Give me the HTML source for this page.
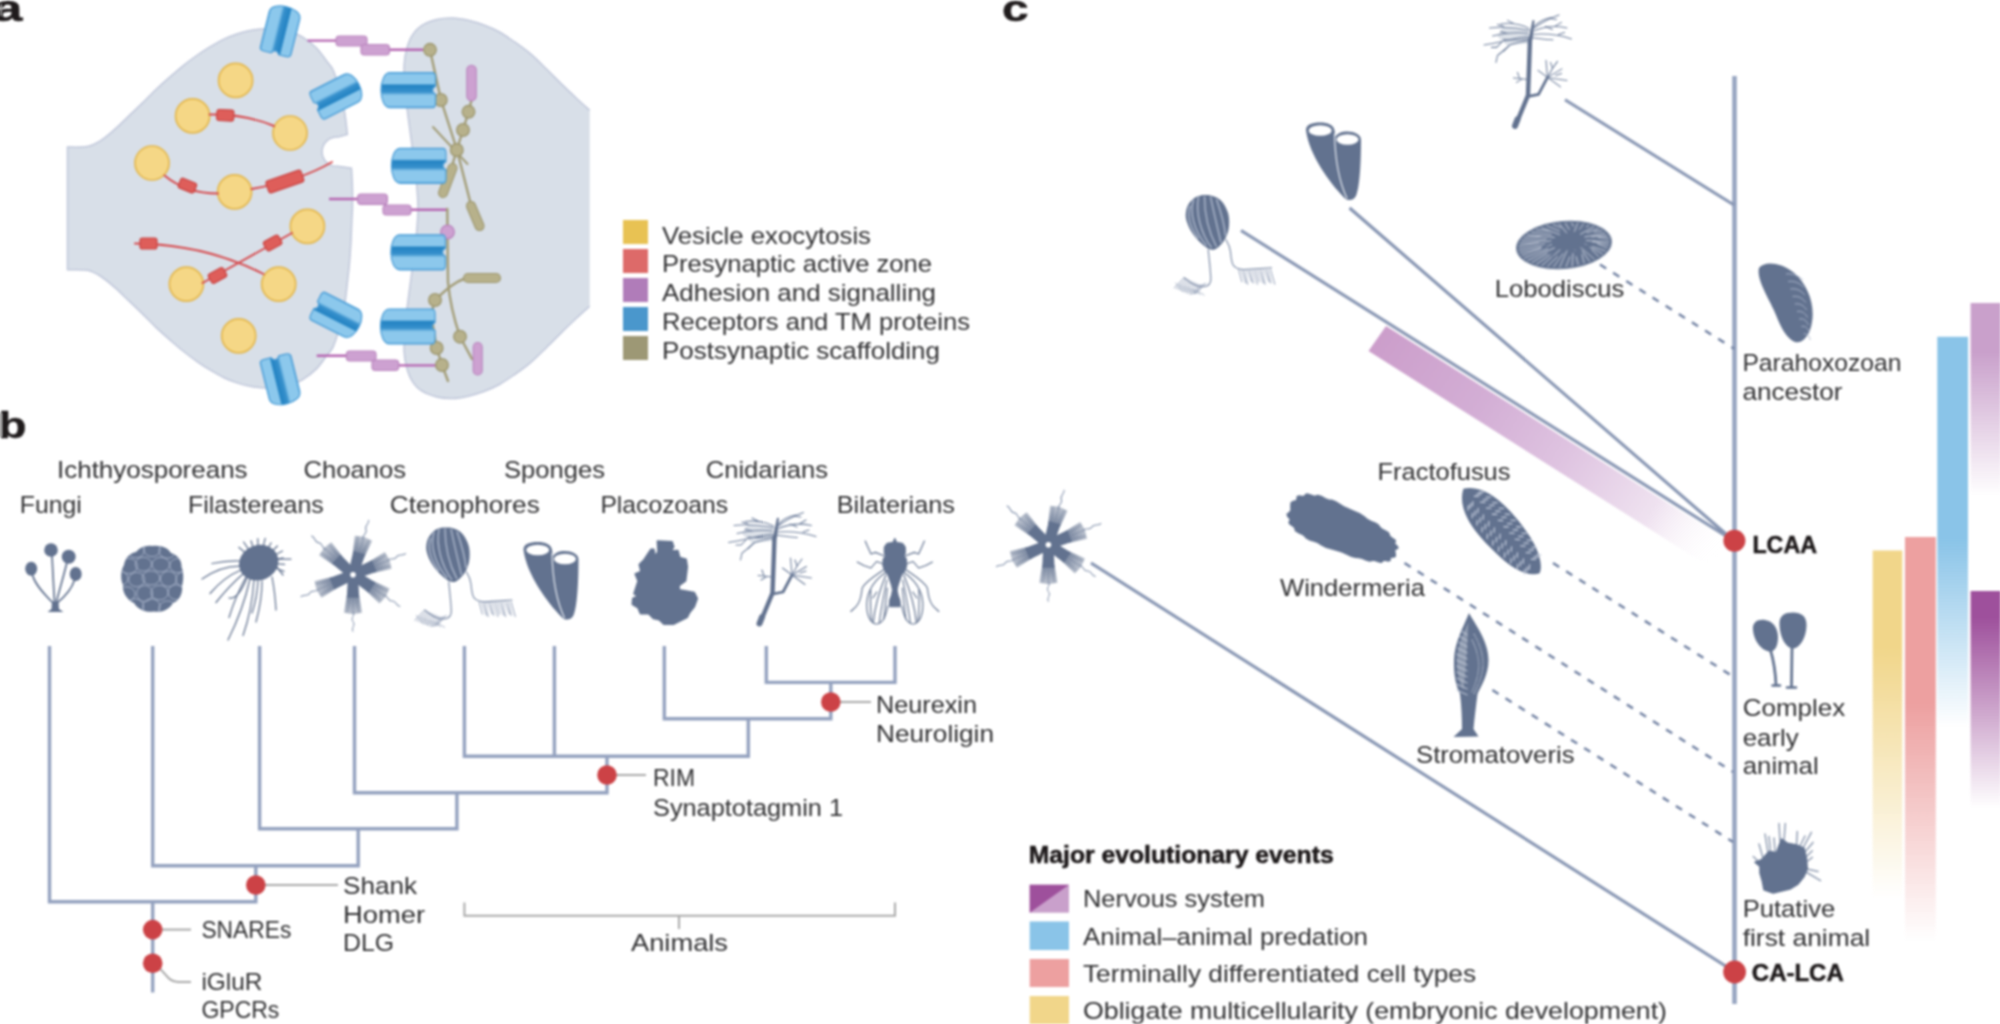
<!DOCTYPE html>
<html lang="en">
<head>
<meta charset="utf-8">
<title>Evolution of synaptic proteins and the nervous system</title>
<style>
html,body{margin:0;padding:0;background:#fff;}
body{width:2000px;height:1024px;overflow:hidden;}
svg{display:block;font-family:"Liberation Sans",sans-serif;}
.soft{filter:blur(1.1px);}
.tx{filter:blur(0.9px);}
</style>
</head>
<body>
<svg width="2000" height="1024" viewBox="0 0 2000 1024">
<defs>
<linearGradient id="rec" x1="0" y1="0" x2="0" y2="1">
<stop offset="0" stop-color="#69B3E4"/><stop offset="0.06" stop-color="#8CC8EC"/><stop offset="0.31" stop-color="#8CC8EC"/>
<stop offset="0.36" stop-color="#2383C3"/><stop offset="0.55" stop-color="#3790CC"/><stop offset="0.65" stop-color="#8CC8EC"/>
<stop offset="0.93" stop-color="#8CC8EC"/><stop offset="1" stop-color="#5BAADF"/>
</linearGradient>
<linearGradient id="gYellow" x1="0" y1="0" x2="0" y2="1"><stop offset="0" stop-color="#F1D68A"/><stop offset="0.28" stop-color="#F1D68A"/><stop offset="1" stop-color="#F1D68A" stop-opacity="0"/></linearGradient>
<linearGradient id="gPink" x1="0" y1="0" x2="0" y2="1"><stop offset="0" stop-color="#EDA0A0"/><stop offset="0.41" stop-color="#EDA0A0"/><stop offset="1" stop-color="#EDA0A0" stop-opacity="0"/></linearGradient>
<linearGradient id="gBlue" x1="0" y1="0" x2="0" y2="1"><stop offset="0" stop-color="#8AC4E8"/><stop offset="0.52" stop-color="#8AC4E8"/><stop offset="1" stop-color="#8AC4E8" stop-opacity="0"/></linearGradient>
<linearGradient id="gLPurple" x1="0" y1="0" x2="0" y2="1"><stop offset="0" stop-color="#C9A0CB"/><stop offset="0.25" stop-color="#C9A0CB"/><stop offset="1" stop-color="#C9A0CB" stop-opacity="0"/></linearGradient>
<linearGradient id="gDPurple" x1="0" y1="0" x2="0" y2="1"><stop offset="0" stop-color="#9E509C"/><stop offset="0.12" stop-color="#9E509C"/><stop offset="1" stop-color="#9E509C" stop-opacity="0"/></linearGradient>
<linearGradient id="gDiag" gradientUnits="userSpaceOnUse" x1="1378" y1="338" x2="1722" y2="553"><stop offset="0" stop-color="#CC9ECB"/><stop offset="0.3" stop-color="#D3AED5"/><stop offset="0.55" stop-color="#DFC4E1"/><stop offset="0.8" stop-color="#EFE2F0"/><stop offset="1" stop-color="#FFFFFF" stop-opacity="0"/></linearGradient>
<linearGradient id="gCollar" gradientUnits="userSpaceOnUse" x1="20" y1="0" x2="40" y2="0"><stop offset="0" stop-color="#62728F" stop-opacity="0.85"/><stop offset="1" stop-color="#62728F" stop-opacity="0.42"/></linearGradient>
</defs>
<rect width="2000" height="1024" fill="#ffffff"/>

<g class="soft" id="panel-a-art">
<path d="M67.5,147.1 C70.8,147.0 81.7,147.6 87.3,146.5 C92.9,145.4 96.4,143.2 101.0,140.3 C105.6,137.5 110.1,133.4 114.7,129.4 C119.3,125.4 123.9,120.7 128.4,116.4 C133.0,112.1 137.4,107.9 142.0,103.4 C146.6,99.0 151.1,94.0 155.7,89.7 C160.3,85.4 164.8,81.4 169.4,77.4 C174.0,73.4 178.4,69.5 183.0,65.8 C187.6,62.1 192.1,58.7 196.7,55.5 C201.3,52.3 205.8,49.4 210.4,46.7 C215.0,44.0 219.4,41.3 224.0,39.1 C228.6,36.9 233.1,35.2 237.7,33.7 C242.3,32.2 246.8,31.1 251.4,30.3 C256.0,29.5 260.2,28.9 265.0,28.8 C269.8,28.7 275.5,29.0 280.0,29.6 C284.5,30.2 288.3,31.3 292.0,32.5 C295.7,33.7 298.2,34.3 302.3,36.9 C306.4,39.5 312.6,44.1 316.7,48.2 C320.8,52.3 324.2,57.9 326.9,61.5 C329.6,65.1 330.9,65.2 333.0,69.7 C335.1,74.2 337.3,81.4 339.2,88.2 C341.1,95.0 343.0,103.1 344.4,110.8 C345.8,118.5 346.9,130.5 347.4,134.4 L338,137 A14.7,14.7 0 1 0 338,166.3 L351.5,168.2 C353,190 353,205 351.8,221 C351.2,245 350,262 347.4,282.4 C346.9,286.3 345.8,298.3 344.4,306.0 C343.0,313.7 341.1,321.8 339.2,328.6 C337.3,335.5 335.1,342.7 333.0,347.1 C330.9,351.6 329.6,351.7 326.9,355.3 C324.2,358.9 320.8,364.5 316.7,368.6 C312.6,372.7 306.4,377.3 302.3,379.9 C298.2,382.5 295.7,383.1 292.0,384.3 C288.3,385.5 284.5,386.6 280.0,387.2 C275.5,387.8 269.8,388.1 265.0,388.0 C260.2,387.9 256.0,387.3 251.4,386.5 C246.8,385.7 242.3,384.6 237.7,383.1 C233.1,381.6 228.6,379.9 224.0,377.7 C219.4,375.5 215.0,372.8 210.4,370.1 C205.8,367.4 201.3,364.5 196.7,361.3 C192.1,358.1 187.6,354.6 183.0,351.0 C178.4,347.4 174.0,343.4 169.4,339.4 C164.8,335.4 160.3,331.4 155.7,327.1 C151.1,322.8 146.6,317.8 142.0,313.4 C137.4,308.9 133.0,304.7 128.4,300.4 C123.9,296.1 119.3,291.4 114.7,287.4 C110.1,283.4 105.6,279.4 101.0,276.5 C96.4,273.6 92.9,271.4 87.3,270.3 C81.7,269.2 70.8,269.8 67.5,269.7 Z" fill="#D8DFE8" stroke="#C0C7DA" stroke-width="1.5"/>
<path d="M589.7,110.2 C587.7,108.4 582.1,103.5 577.5,99.2 C572.9,94.9 567.1,89.5 561.9,84.4 C556.7,79.3 551.5,73.9 546.3,68.8 C541.1,63.7 535.8,58.3 530.6,53.9 C525.4,49.5 520.2,45.9 515.0,42.2 C509.8,38.6 504.6,34.9 499.4,32.0 C494.2,29.1 489.0,26.9 483.8,25.0 C478.6,23.1 473.3,21.5 468.1,20.3 C462.9,19.1 457.7,18.1 452.5,18.0 C447.3,17.9 442.1,18.2 436.9,19.5 C431.7,20.8 425.5,23.1 421.3,25.8 C417.1,28.5 414.4,31.9 411.9,35.9 C409.4,39.9 407.7,45.0 406.4,50.0 C405.1,55.0 404.4,59.6 404.1,65.6 C403.8,71.6 404.3,78.6 404.8,85.9 C405.3,93.2 406.3,101.6 407.2,109.4 C408.1,117.2 409.3,125.0 410.3,132.8 C411.3,140.6 412.4,147.9 413.4,156.3 C414.4,164.7 415.7,174.3 416.5,183.0 C417.3,191.7 418.0,199.8 418.0,208.2 C418.0,216.6 417.3,224.8 416.5,233.5 C415.7,242.2 414.4,251.8 413.4,260.2 C412.4,268.6 411.3,275.9 410.3,283.7 C409.3,291.5 408.1,299.3 407.2,307.1 C406.3,314.9 405.3,323.3 404.8,330.6 C404.3,337.9 403.8,344.9 404.1,350.9 C404.4,356.9 405.1,361.6 406.4,366.5 C407.7,371.4 409.4,376.6 411.9,380.6 C414.4,384.6 417.1,388.0 421.3,390.7 C425.5,393.4 431.7,395.7 436.9,397.0 C442.1,398.3 447.3,398.6 452.5,398.5 C457.7,398.4 462.9,397.4 468.1,396.2 C473.3,395.0 478.6,393.4 483.8,391.5 C489.0,389.6 494.2,387.4 499.4,384.5 C504.6,381.6 509.8,377.9 515.0,374.3 C520.2,370.7 525.4,367.0 530.6,362.6 C535.8,358.2 541.1,352.8 546.3,347.7 C551.5,342.6 556.7,337.2 561.9,332.1 C567.1,327.0 572.9,321.6 577.5,317.3 C582.1,313.0 587.7,308.1 589.7,306.3 Z" fill="#D8DFE8"/>
<path d="M589.7,110.2 C587.7,108.4 582.1,103.5 577.5,99.2 C572.9,94.9 567.1,89.5 561.9,84.4 C556.7,79.3 551.5,73.9 546.3,68.8 C541.1,63.7 535.8,58.3 530.6,53.9 C525.4,49.5 520.2,45.9 515.0,42.2 C509.8,38.6 504.6,34.9 499.4,32.0 C494.2,29.1 489.0,26.9 483.8,25.0 C478.6,23.1 473.3,21.5 468.1,20.3 C462.9,19.1 457.7,18.1 452.5,18.0 C447.3,17.9 442.1,18.2 436.9,19.5 C431.7,20.8 425.5,23.1 421.3,25.8 C417.1,28.5 414.4,31.9 411.9,35.9 C409.4,39.9 407.7,45.0 406.4,50.0 C405.1,55.0 404.4,59.6 404.1,65.6 C403.8,71.6 404.3,78.6 404.8,85.9 C405.3,93.2 406.3,101.6 407.2,109.4 C408.1,117.2 409.3,125.0 410.3,132.8 C411.3,140.6 412.4,147.9 413.4,156.3 C414.4,164.7 415.7,174.3 416.5,183.0 C417.3,191.7 418.0,199.8 418.0,208.2 C418.0,216.6 417.3,224.8 416.5,233.5 C415.7,242.2 414.4,251.8 413.4,260.2 C412.4,268.6 411.3,275.9 410.3,283.7 C409.3,291.5 408.1,299.3 407.2,307.1 C406.3,314.9 405.3,323.3 404.8,330.6 C404.3,337.9 403.8,344.9 404.1,350.9 C404.4,356.9 405.1,361.6 406.4,366.5 C407.7,371.4 409.4,376.6 411.9,380.6 C414.4,384.6 417.1,388.0 421.3,390.7 C425.5,393.4 431.7,395.7 436.9,397.0 C442.1,398.3 447.3,398.6 452.5,398.5 C457.7,398.4 462.9,397.4 468.1,396.2 C473.3,395.0 478.6,393.4 483.8,391.5 C489.0,389.6 494.2,387.4 499.4,384.5 C504.6,381.6 509.8,377.9 515.0,374.3 C520.2,370.7 525.4,367.0 530.6,362.6 C535.8,358.2 541.1,352.8 546.3,347.7 C551.5,342.6 556.7,337.2 561.9,332.1 C567.1,327.0 572.9,321.6 577.5,317.3 C582.1,313.0 587.7,308.1 589.7,306.3" fill="none" stroke="#C0C7DA" stroke-width="1.5"/>
<circle cx="235.6" cy="80.4" r="17" fill="#F5D786" stroke="#E4B84E" stroke-width="1.7"/>
<circle cx="192.6" cy="115.9" r="17" fill="#F5D786" stroke="#E4B84E" stroke-width="1.7"/>
<circle cx="290" cy="133" r="17" fill="#F5D786" stroke="#E4B84E" stroke-width="1.7"/>
<circle cx="152" cy="163" r="17" fill="#F5D786" stroke="#E4B84E" stroke-width="1.7"/>
<circle cx="234.6" cy="191.8" r="17" fill="#F5D786" stroke="#E4B84E" stroke-width="1.7"/>
<circle cx="307.4" cy="226.3" r="17" fill="#F5D786" stroke="#E4B84E" stroke-width="1.7"/>
<circle cx="186.4" cy="284.1" r="17" fill="#F5D786" stroke="#E4B84E" stroke-width="1.7"/>
<circle cx="278.7" cy="284.1" r="17" fill="#F5D786" stroke="#E4B84E" stroke-width="1.7"/>
<circle cx="238.7" cy="335.8" r="17" fill="#F5D786" stroke="#E4B84E" stroke-width="1.7"/>
<g fill="none" stroke="#D6474A" stroke-width="1.9" stroke-linecap="round">
<path d="M209.5,114.5 C235,114 255,118 274,126"/>
<path d="M164.5,175.5 C182,190 200,193.5 218,193.5"/>
<path d="M251.5,189 C286,183 310,175 332,162"/>
<path d="M135,243.5 C185,244 228,256 263.5,274"/>
<path d="M202.5,283 L292,233"/>
</g>
<rect x="216.8" y="109.8" width="17" height="11" rx="2.5" fill="#DE5E5A" stroke="#C9403F" stroke-width="1.2" transform="rotate(3 225.3 115.3)"/>
<rect x="178.9" y="180.3" width="17" height="10.5" rx="2.5" fill="#DE5E5A" stroke="#C9403F" stroke-width="1.2" transform="rotate(22 187.4 185.6)"/>
<rect x="266.4" y="175.2" width="37" height="12.5" rx="2.5" fill="#DE5E5A" stroke="#C9403F" stroke-width="1.2" transform="rotate(-19 284.9 181.5)"/>
<rect x="140.0" y="238.0" width="17" height="11" rx="2.5" fill="#DE5E5A" stroke="#C9403F" stroke-width="1.2" transform="rotate(0 148.5 243.5)"/>
<rect x="209.0" y="270.2" width="17" height="10.5" rx="2.5" fill="#DE5E5A" stroke="#C9403F" stroke-width="1.2" transform="rotate(-29 217.5 275.5)"/>
<rect x="264.1" y="237.8" width="17" height="10.5" rx="2.5" fill="#DE5E5A" stroke="#C9403F" stroke-width="1.2" transform="rotate(-29 272.6 243.0)"/>
<g transform="translate(280.8 30.3) rotate(104)">
<path d="M-15.25,-15.75 H21.25 C24.25,-15.75 24.25,-12.75 24.25,-10.75 V-4 C20.25,-2 20.25,2 24.25,4 V10.75 C24.25,12.75 24.25,15.75 21.25,15.75 H-15.25 C-27.25,15.75 -27.25,-15.75 -15.25,-15.75 Z" fill="url(#rec)" stroke="#4A9CD6" stroke-width="1.2"/>
</g>
<g transform="translate(337.3 95.3) rotate(153)">
<path d="M-15.25,-15.5 H21.25 C24.25,-15.5 24.25,-12.5 24.25,-10.5 V-4 C20.25,-2 20.25,2 24.25,4 V10.5 C24.25,12.5 24.25,15.5 21.25,15.5 H-15.25 C-27.25,15.5 -27.25,-15.5 -15.25,-15.5 Z" fill="url(#rec)" stroke="#4A9CD6" stroke-width="1.2"/>
</g>
<g transform="translate(337.3 316.0) rotate(207)">
<path d="M-15.25,-15.5 H21.25 C24.25,-15.5 24.25,-12.5 24.25,-10.5 V-4 C20.25,-2 20.25,2 24.25,4 V10.5 C24.25,12.5 24.25,15.5 21.25,15.5 H-15.25 C-27.25,15.5 -27.25,-15.5 -15.25,-15.5 Z" fill="url(#rec)" stroke="#4A9CD6" stroke-width="1.2"/>
</g>
<g transform="translate(280.8 380.3) rotate(-104)">
<path d="M-15.25,-15.75 H21.25 C24.25,-15.75 24.25,-12.75 24.25,-10.75 V-4 C20.25,-2 20.25,2 24.25,4 V10.75 C24.25,12.75 24.25,15.75 21.25,15.75 H-15.25 C-27.25,15.75 -27.25,-15.75 -15.25,-15.75 Z" fill="url(#rec)" stroke="#4A9CD6" stroke-width="1.2"/>
</g>
<path d="M307.5,40.6 H338 M387.5,49.8 H423" fill="none" stroke="#B565B1" stroke-width="2.4"/>
<path d="M363,41.0 L365,49.75" fill="none" stroke="#B565B1" stroke-width="2.4"/>
<rect x="336" y="36" width="31.0" height="10.0" rx="3.5" fill="#CDA1D1" stroke="#B984BD" stroke-width="1.2"/>
<rect x="361" y="44.5" width="28.5" height="10.5" rx="3.5" fill="#CDA1D1" stroke="#B984BD" stroke-width="1.2"/>
<path d="M329,199 H359.7 M409,209.8 H447.3" fill="none" stroke="#B565B1" stroke-width="2.4"/>
<path d="M383.4,199.2 L387,210.0" fill="none" stroke="#B565B1" stroke-width="2.4"/>
<rect x="357.7" y="194" width="29.7" height="10.4" rx="3.5" fill="#CDA1D1" stroke="#B984BD" stroke-width="1.2"/>
<rect x="383" y="205" width="28.0" height="10.0" rx="3.5" fill="#CDA1D1" stroke="#B984BD" stroke-width="1.2"/>
<path d="M316.7,355.7 H348.4 M396.7,365.4 H436" fill="none" stroke="#B565B1" stroke-width="2.4"/>
<path d="M372,356.0 L376,365.25" fill="none" stroke="#B565B1" stroke-width="2.4"/>
<rect x="346.4" y="351" width="29.6" height="10.0" rx="3.5" fill="#CDA1D1" stroke="#B984BD" stroke-width="1.2"/>
<rect x="372" y="360" width="26.7" height="10.5" rx="3.5" fill="#CDA1D1" stroke="#B984BD" stroke-width="1.2"/>
<g fill="none" stroke="#A39D77" stroke-width="2.4" stroke-linecap="round" stroke-linejoin="round">
<path d="M430,50 L441,100 L457,150 L471,205"/>
<path d="M471.5,100 L468.5,112 L463,130 L456.8,150 L452,166"/>
<path d="M433,127 L467.5,164" stroke-width="2"/>
<path d="M447.3,209 L447.5,232 L448,282 C450,305 455,322 460,336.7 L472,359"/>
<path d="M466,278 C452,283 444,292 435,300 C432,308 431.5,316 432.5,323 L436.7,348 L442,365 L448,381"/>
</g>
<path d="M452.5,168 L443,193" stroke="#9C966E" stroke-width="10.1" stroke-linecap="round" fill="none"/>
<path d="M452.5,168 L443,193" stroke="#B7B18B" stroke-width="7.9" stroke-linecap="round" fill="none"/>
<path d="M471,206 L479.5,226" stroke="#9C966E" stroke-width="10.1" stroke-linecap="round" fill="none"/>
<path d="M471,206 L479.5,226" stroke="#B7B18B" stroke-width="7.9" stroke-linecap="round" fill="none"/>
<path d="M468,278 L496,278" stroke="#9C966E" stroke-width="10.1" stroke-linecap="round" fill="none"/>
<path d="M468,278 L496,278" stroke="#B7B18B" stroke-width="7.9" stroke-linecap="round" fill="none"/>
<circle cx="430" cy="49.8" r="6.3" fill="#B7B18B" stroke="#9C966E" stroke-width="1.3"/>
<circle cx="440.8" cy="100" r="6.3" fill="#B7B18B" stroke="#9C966E" stroke-width="1.3"/>
<circle cx="468.5" cy="111.8" r="6.3" fill="#B7B18B" stroke="#9C966E" stroke-width="1.3"/>
<circle cx="463" cy="130" r="6.3" fill="#B7B18B" stroke="#9C966E" stroke-width="1.3"/>
<circle cx="456.8" cy="150" r="6.3" fill="#B7B18B" stroke="#9C966E" stroke-width="1.3"/>
<circle cx="435" cy="300" r="6.3" fill="#B7B18B" stroke="#9C966E" stroke-width="1.3"/>
<circle cx="460" cy="336.7" r="6.3" fill="#B7B18B" stroke="#9C966E" stroke-width="1.3"/>
<circle cx="436.7" cy="348" r="6.3" fill="#B7B18B" stroke="#9C966E" stroke-width="1.3"/>
<circle cx="442" cy="365" r="6.3" fill="#B7B18B" stroke="#9C966E" stroke-width="1.3"/>
<path d="M471.5,70 L471.5,96" stroke="#B984BD" stroke-width="10.6" stroke-linecap="round" fill="none"/>
<path d="M471.5,70 L471.5,96" stroke="#CDA1D1" stroke-width="8.4" stroke-linecap="round" fill="none"/>
<path d="M477.7,347 L477.7,370.5" stroke="#B984BD" stroke-width="10.1" stroke-linecap="round" fill="none"/>
<path d="M477.7,347 L477.7,370.5" stroke="#CDA1D1" stroke-width="7.9" stroke-linecap="round" fill="none"/>
<circle cx="447.5" cy="232" r="6.8" fill="#CDA1D1" stroke="#B984BD" stroke-width="1.3"/>
<g transform="translate(408.3 90.2) rotate(0)">
<path d="M-18.25,-17.5 H24.25 C27.25,-17.5 27.25,-14.5 27.25,-12.5 V-4 C23.25,-2 23.25,2 27.25,4 V12.5 C27.25,14.5 27.25,17.5 24.25,17.5 H-18.25 C-30.25,17.5 -30.25,-17.5 -18.25,-17.5 Z" fill="url(#rec)" stroke="#4A9CD6" stroke-width="1.2"/>
</g>
<g transform="translate(418.7 165.8) rotate(0)">
<path d="M-18.25,-17.5 H24.25 C27.25,-17.5 27.25,-14.5 27.25,-12.5 V-4 C23.25,-2 23.25,2 27.25,4 V12.5 C27.25,14.5 27.25,17.5 24.25,17.5 H-18.25 C-30.25,17.5 -30.25,-17.5 -18.25,-17.5 Z" fill="url(#rec)" stroke="#4A9CD6" stroke-width="1.2"/>
</g>
<g transform="translate(418.2 252.3) rotate(0)">
<path d="M-18.25,-17.5 H24.25 C27.25,-17.5 27.25,-14.5 27.25,-12.5 V-4 C23.25,-2 23.25,2 27.25,4 V12.5 C27.25,14.5 27.25,17.5 24.25,17.5 H-18.25 C-30.25,17.5 -30.25,-17.5 -18.25,-17.5 Z" fill="url(#rec)" stroke="#4A9CD6" stroke-width="1.2"/>
</g>
<g transform="translate(407.8 326.5) rotate(0)">
<path d="M-18.25,-17.5 H24.25 C27.25,-17.5 27.25,-14.5 27.25,-12.5 V-4 C23.25,-2 23.25,2 27.25,4 V12.5 C27.25,14.5 27.25,17.5 24.25,17.5 H-18.25 C-30.25,17.5 -30.25,-17.5 -18.25,-17.5 Z" fill="url(#rec)" stroke="#4A9CD6" stroke-width="1.2"/>
</g>
</g>
<g class="soft">
<rect x="623" y="220" width="25" height="24" fill="#E8C253"/>
<rect x="623" y="249" width="25" height="24" fill="#DD6A69"/>
<rect x="623" y="278" width="25" height="24" fill="#B07CB9"/>
<rect x="623" y="307" width="25" height="24" fill="#4A97CC"/>
<rect x="623" y="336" width="25" height="24" fill="#9D9875"/>
</g>
<g class="tx">
<text x="662.0" y="243.5" font-size="24.5" fill="#303032" textLength="209.0" lengthAdjust="spacingAndGlyphs">Vesicle exocytosis</text>
<text x="662.0" y="272.4" font-size="24.5" fill="#303032" textLength="270.0" lengthAdjust="spacingAndGlyphs">Presynaptic active zone</text>
<text x="662.0" y="301.3" font-size="24.5" fill="#303032" textLength="274.0" lengthAdjust="spacingAndGlyphs">Adhesion and signalling</text>
<text x="662.0" y="330.2" font-size="24.5" fill="#303032" textLength="308.0" lengthAdjust="spacingAndGlyphs">Receptors and TM proteins</text>
<text x="662.0" y="359.1" font-size="24.5" fill="#303032" textLength="278.0" lengthAdjust="spacingAndGlyphs">Postsynaptic scaffolding</text>
<text x="-6.5" y="20.5" font-size="36" fill="#1f1b1c" font-weight="bold" stroke="#1f1b1c" stroke-width="0.5" textLength="29.0" lengthAdjust="spacingAndGlyphs">a</text>
<text x="-1.5" y="438.0" font-size="36" fill="#1f1b1c" font-weight="bold" stroke="#1f1b1c" stroke-width="0.5" textLength="28.0" lengthAdjust="spacingAndGlyphs">b</text>
<text x="1002.0" y="20.5" font-size="36" fill="#1f1b1c" font-weight="bold" stroke="#1f1b1c" stroke-width="0.5" textLength="26.5" lengthAdjust="spacingAndGlyphs">c</text>
</g>
<rect x="0" y="4" width="2" height="12" fill="#999" class="soft"/><rect x="0" y="413" width="2.3" height="24" fill="#999" class="soft"/>
<g class="tx">
<text x="57.0" y="477.5" font-size="24.5" fill="#303032" textLength="190.6" lengthAdjust="spacingAndGlyphs">Ichthyosporeans</text>
<text x="303.5" y="477.5" font-size="24.5" fill="#303032" textLength="102.5" lengthAdjust="spacingAndGlyphs">Choanos</text>
<text x="504.0" y="477.5" font-size="24.5" fill="#303032" textLength="101.0" lengthAdjust="spacingAndGlyphs">Sponges</text>
<text x="705.7" y="477.5" font-size="24.5" fill="#303032" textLength="122.3" lengthAdjust="spacingAndGlyphs">Cnidarians</text>
<text x="19.8" y="513.0" font-size="24.5" fill="#303032" textLength="62.0" lengthAdjust="spacingAndGlyphs">Fungi</text>
<text x="188.0" y="513.0" font-size="24.5" fill="#303032" textLength="135.8" lengthAdjust="spacingAndGlyphs">Filastereans</text>
<text x="389.8" y="513.0" font-size="24.5" fill="#303032" textLength="150.0" lengthAdjust="spacingAndGlyphs">Ctenophores</text>
<text x="600.4" y="513.0" font-size="24.5" fill="#303032" textLength="127.6" lengthAdjust="spacingAndGlyphs">Placozoans</text>
<text x="836.7" y="513.0" font-size="24.5" fill="#303032" textLength="118.3" lengthAdjust="spacingAndGlyphs">Bilaterians</text>
</g>
<g class="soft" fill="none" stroke="#94A2BF" stroke-width="3.4" stroke-linejoin="miter">
<path d="M49.5,646 V901.8 H255.8 V865.8"/>
<path d="M152.7,646 V865.8 H358.2 V828.7"/>
<path d="M259.6,646 V828.7 H456.9 V792.7"/>
<path d="M354.5,646 V792.7 H607 V756.3"/>
<path d="M464.4,646 V756.3 H748.3 V718.8"/>
<path d="M554.4,646 V756.3"/>
<path d="M664.3,646 V718.8 H830.8 V682.4"/>
<path d="M766.3,646 V682.4 H895 V646"/>
<path d="M152.7,901.8 V992.5"/>
</g>
<g class="soft" fill="none" stroke="#a9a9a9" stroke-width="2">
<path d="M262,885 H338"/><path d="M160,929.6 H191"/><path d="M158,967 C165,972 168,982 178,982 H191"/>
<path d="M614,775 H646"/><path d="M838,702 H871"/>
<path d="M464.4,902.5 V915.7 H895 V902.5 M679,915.7 V929"/>
</g>
<g class="soft" fill="#CC4246">
<circle cx="255.8" cy="885" r="9.8"/>
<circle cx="152.7" cy="929.6" r="9.8"/>
<circle cx="152.7" cy="963.3" r="9.8"/>
<circle cx="607" cy="775" r="9.8"/>
<circle cx="830.8" cy="702" r="9.8"/>
</g>
<g class="tx">
<text x="343.0" y="894.0" font-size="24.5" fill="#303032" textLength="74.0" lengthAdjust="spacingAndGlyphs">Shank</text>
<text x="343.0" y="922.5" font-size="24.5" fill="#303032" textLength="82.0" lengthAdjust="spacingAndGlyphs">Homer</text>
<text x="343.0" y="951.0" font-size="24.5" fill="#303032" textLength="51.0" lengthAdjust="spacingAndGlyphs">DLG</text>
<text x="201.4" y="938.0" font-size="24.5" fill="#303032" textLength="90.0" lengthAdjust="spacingAndGlyphs">SNAREs</text>
<text x="201.4" y="989.6" font-size="24.5" fill="#303032" textLength="61.0" lengthAdjust="spacingAndGlyphs">iGluR</text>
<text x="201.4" y="1017.7" font-size="24.5" fill="#303032" textLength="78.0" lengthAdjust="spacingAndGlyphs">GPCRs</text>
<text x="653.0" y="786.0" font-size="24.5" fill="#303032" textLength="42.0" lengthAdjust="spacingAndGlyphs">RIM</text>
<text x="653.0" y="816.0" font-size="24.5" fill="#303032" textLength="190.0" lengthAdjust="spacingAndGlyphs">Synaptotagmin 1</text>
<text x="876.0" y="713.0" font-size="24.5" fill="#303032" textLength="101.0" lengthAdjust="spacingAndGlyphs">Neurexin</text>
<text x="876.0" y="742.0" font-size="24.5" fill="#303032" textLength="118.0" lengthAdjust="spacingAndGlyphs">Neuroligin</text>
<text x="631.0" y="951.0" font-size="24.5" fill="#303032" textLength="97.0" lengthAdjust="spacingAndGlyphs">Animals</text>
</g>
<g class="soft" id="organisms">
<g fill="#62728F" stroke="none">
<path d="M47.5,612 L51.5,609 L52,601.5 L58.5,601.5 L59,609 L63.5,612 Z"/>
<ellipse cx="51" cy="550" rx="6.8" ry="6.8"/>
<ellipse cx="68.7" cy="556.7" rx="7" ry="7"/>
<ellipse cx="31.2" cy="568.7" rx="6" ry="7"/>
<ellipse cx="75.7" cy="574" rx="6" ry="7"/>
</g>
<g fill="none" stroke="#62728F" stroke-width="1.7" stroke-linecap="round">
<path d="M54.5,603 L52,556"/><path d="M56,603 C60,588 64,575 67,562"/><path d="M53,603 C42,592 35,584 32.5,575"/><path d="M57,603 C67,595 72,588 74.5,580"/>
</g>
<clipPath id="ichClip"><path d="M152,546 C162,545 168,548 171,553 C178,555 182,561 181.5,567 C184,573 183.5,581 182,586 C183,594 179,601 173,603 C170,609 162,613 154,611.5 C146,613 137,609 134,603 C127,600 122,592 123,585 C120,578 121,570 124,565 C125,558 130,553 136,552 C140,547 146,545 152,546 Z"/></clipPath>
<path d="M152,546 C162,545 168,548 171,553 C178,555 182,561 181.5,567 C184,573 183.5,581 182,586 C183,594 179,601 173,603 C170,609 162,613 154,611.5 C146,613 137,609 134,603 C127,600 122,592 123,585 C120,578 121,570 124,565 C125,558 130,553 136,552 C140,547 146,545 152,546 Z" fill="#62728F"/>
<g fill="none" stroke="#A9B4CB" stroke-width="0.9" clip-path="url(#ichClip)">
<ellipse cx="136.0" cy="550.9" rx="8.1" ry="6.9"/>
<ellipse cx="152.1" cy="549.5" rx="8.1" ry="7.2"/>
<ellipse cx="167.3" cy="550.5" rx="8.4" ry="7.8"/>
<ellipse cx="128.6" cy="566.0" rx="8.8" ry="7.7"/>
<ellipse cx="143.4" cy="564.2" rx="8.2" ry="7.0"/>
<ellipse cx="160.8" cy="564.6" rx="8.8" ry="7.3"/>
<ellipse cx="177.7" cy="565.6" rx="7.9" ry="7.1"/>
<ellipse cx="119.9" cy="578.4" rx="8.0" ry="7.3"/>
<ellipse cx="136.7" cy="579.6" rx="8.0" ry="7.2"/>
<ellipse cx="151.0" cy="577.9" rx="8.8" ry="7.1"/>
<ellipse cx="168.5" cy="578.9" rx="8.1" ry="7.7"/>
<ellipse cx="183.9" cy="579.3" rx="8.0" ry="7.4"/>
<ellipse cx="126.9" cy="594.1" rx="8.1" ry="7.3"/>
<ellipse cx="144.7" cy="593.5" rx="8.0" ry="8.0"/>
<ellipse cx="159.5" cy="592.6" rx="8.7" ry="7.3"/>
<ellipse cx="176.1" cy="592.2" rx="8.0" ry="7.5"/>
<ellipse cx="134.8" cy="606.6" rx="8.9" ry="7.8"/>
<ellipse cx="151.4" cy="606.7" rx="8.7" ry="7.9"/>
<ellipse cx="167.7" cy="608.5" rx="8.9" ry="7.6"/>
</g>
<ellipse cx="258.7" cy="562.7" rx="20" ry="17.5" transform="rotate(-22 258.7 562.7)" fill="#62728F"/>
<g fill="none" stroke="#62728F" stroke-width="1.25" stroke-linecap="round">
<path d="M240,566 Q220,566 202,579"/>
<path d="M241,570 Q224,577 210,593.5"/>
<path d="M243,574 Q230,585 216,602.5"/>
<path d="M240,561 Q226,560.5 212,563.5"/>
<path d="M246,577 Q236,595 229,617.5"/>
<path d="M250,579 Q243,610 228,640"/>
<path d="M254,580 Q252,610 243,635.5"/>
<path d="M258,581 Q257,598 252,613"/>
<path d="M272,577 Q275,592 276,610"/>
<path d="M247,578 Q238,600 229,598"/>
<path d="M262,581 Q262,600 256,622"/>
<path d="M244.1,551.8 L238.8,547.3"/>
<path d="M248.1,548.6 L243.6,542.0"/>
<path d="M252.8,546.5 L251.0,540.8"/>
<path d="M258.0,545.7 L257.8,538.7"/>
<path d="M263.3,546.2 L265.2,538.4"/>
<path d="M268.2,548.0 L271.2,542.8"/>
<path d="M272.4,550.9 L277.4,546.0"/>
<path d="M275.5,554.7 L282.5,551.0"/>
<path d="M277.3,559.2 L283.2,557.9"/>
<path d="M277.7,563.9 L284.6,564.4"/>
<path d="M276.6,568.5 L284.1,571.3"/>
<path d="M277,559 H291"/><path d="M276,566 L283,575"/>
</g>
<g transform="translate(353 574.7)">
<g transform="rotate(-74)">
<path d="M0,-5 L23,-6.2 L23,6.2 L0,5 Z" fill="#62728F"/>
<path d="M20,-6 L38,-9 L39.5,0 L38,9 L20,6 Z" fill="url(#gCollar)"/>
<path d="M24,-3 L38,-6 M24,0 L39,0 M24,3 L38,6" stroke="#62728F" stroke-width="0.9" opacity="0.45" fill="none"/>
<path d="M37,0 C40,-3 43,3 47,0 C50,-3 53,2 57,0" fill="none" stroke="#7F8EA9" stroke-width="1"/>
</g>
<g transform="rotate(-22)">
<path d="M0,-5 L23,-6.2 L23,6.2 L0,5 Z" fill="#62728F"/>
<path d="M20,-6 L38,-9 L39.5,0 L38,9 L20,6 Z" fill="url(#gCollar)"/>
<path d="M24,-3 L38,-6 M24,0 L39,0 M24,3 L38,6" stroke="#62728F" stroke-width="0.9" opacity="0.45" fill="none"/>
<path d="M37,0 C40,-3 43,3 47,0 C50,-3 53,2 57,0" fill="none" stroke="#7F8EA9" stroke-width="1"/>
</g>
<g transform="rotate(34)">
<path d="M0,-5 L23,-6.2 L23,6.2 L0,5 Z" fill="#62728F"/>
<path d="M20,-6 L38,-9 L39.5,0 L38,9 L20,6 Z" fill="url(#gCollar)"/>
<path d="M24,-3 L38,-6 M24,0 L39,0 M24,3 L38,6" stroke="#62728F" stroke-width="0.9" opacity="0.45" fill="none"/>
<path d="M37,0 C40,-3 43,3 47,0 C50,-3 53,2 57,0" fill="none" stroke="#7F8EA9" stroke-width="1"/>
</g>
<g transform="rotate(90)">
<path d="M0,-5 L23,-6.2 L23,6.2 L0,5 Z" fill="#62728F"/>
<path d="M20,-6 L38,-9 L39.5,0 L38,9 L20,6 Z" fill="url(#gCollar)"/>
<path d="M24,-3 L38,-6 M24,0 L39,0 M24,3 L38,6" stroke="#62728F" stroke-width="0.9" opacity="0.45" fill="none"/>
<path d="M37,0 C40,-3 43,3 47,0 C50,-3 53,2 57,0" fill="none" stroke="#7F8EA9" stroke-width="1"/>
</g>
<g transform="rotate(157)">
<path d="M0,-5 L23,-6.2 L23,6.2 L0,5 Z" fill="#62728F"/>
<path d="M20,-6 L38,-9 L39.5,0 L38,9 L20,6 Z" fill="url(#gCollar)"/>
<path d="M24,-3 L38,-6 M24,0 L39,0 M24,3 L38,6" stroke="#62728F" stroke-width="0.9" opacity="0.45" fill="none"/>
<path d="M37,0 C40,-3 43,3 47,0 C50,-3 53,2 57,0" fill="none" stroke="#7F8EA9" stroke-width="1"/>
</g>
<g transform="rotate(223)">
<path d="M0,-5 L23,-6.2 L23,6.2 L0,5 Z" fill="#62728F"/>
<path d="M20,-6 L38,-9 L39.5,0 L38,9 L20,6 Z" fill="url(#gCollar)"/>
<path d="M24,-3 L38,-6 M24,0 L39,0 M24,3 L38,6" stroke="#62728F" stroke-width="0.9" opacity="0.45" fill="none"/>
<path d="M37,0 C40,-3 43,3 47,0 C50,-3 53,2 57,0" fill="none" stroke="#7F8EA9" stroke-width="1"/>
</g>
<circle r="9.5" fill="#62728F"/><circle r="2.8" fill="#fff"/>
</g>
<g transform="translate(0 0)">
<path d="M442.4,527.5 C443.7,527.5 447.5,527.2 450.0,527.6 C452.5,528.0 455.4,529.0 457.6,530.1 C459.8,531.2 461.5,532.8 463.0,534.5 C464.5,536.2 465.5,538.1 466.5,540.2 C467.5,542.3 468.5,544.7 469.0,547.0 C469.5,549.3 469.7,551.7 469.7,554.2 C469.7,556.7 469.5,559.5 469.0,562.0 C468.5,564.5 467.4,567.3 466.5,569.4 C465.6,571.5 464.6,573.0 463.5,574.5 C462.4,576.0 461.2,577.2 460.1,578.3 C459.0,579.3 458.1,580.2 457.0,580.8 C455.9,581.4 455.1,582.1 453.8,582.1 C452.5,582.1 450.5,581.6 449.0,581.0 C447.5,580.4 446.5,579.5 444.9,578.3 C443.3,577.0 441.2,575.2 439.5,573.5 C437.8,571.8 436.3,570.1 434.8,568.1 C433.3,566.1 431.7,563.6 430.5,561.5 C429.3,559.4 428.5,557.4 427.8,555.4 C427.1,553.4 426.5,551.4 426.3,549.5 C426.1,547.6 426.2,545.8 426.5,544.0 C426.8,542.2 427.2,540.2 428.0,538.5 C428.8,536.8 429.7,535.4 431.0,533.9 C432.3,532.4 434.1,530.6 436.0,529.5 C437.9,528.4 441.3,527.8 442.4,527.5 Z" fill="#62728F"/>
<g fill="none" stroke="#B6C0D3" stroke-width="1.25">
<path d="M434,532 C430,545 434,562 447,578"/><path d="M439,529 C436,545 441,565 452,580"/><path d="M445,528.5 C445,545 449,564 457,579"/><path d="M451,529 C454,544 458,560 461.5,575"/><path d="M457,531.5 C461,543 465,556 466,568"/><path d="M430.5,538 C427.5,548 430,559 439,571"/>
</g>
<g fill="none" stroke="#7887A3" stroke-width="1.15" stroke-linecap="round">
<path d="M448.7,582 C449.5,590 451,602 451.3,611 C451.5,616 449,618.5 444,619 C438,619 433,616.5 429.7,613.8 L424.6,610"/>
<path d="M466.5,572 C469,576 470.5,580 471,584 C471.5,590 472,594 473.5,597 C475.5,600.5 479,601.5 484,601.8 L512,600"/>
</g>
<g fill="none" stroke="#8E9BB4" stroke-width="0.95">
<path d="M479.0,601.5 L482.5,614.5"/>
<path d="M481.9,601.5 L486.4,615.7"/>
<path d="M484.8,601.5 L488.3,616.9"/>
<path d="M487.7,601.5 L492.2,614.5"/>
<path d="M490.6,601.5 L494.1,615.7"/>
<path d="M493.5,601.5 L498.0,616.9"/>
<path d="M496.4,601.5 L499.9,614.5"/>
<path d="M499.3,601.5 L503.8,615.7"/>
<path d="M502.2,601.5 L505.7,616.9"/>
<path d="M505.1,601.5 L509.6,614.5"/>
<path d="M508.0,601.5 L511.5,615.7"/>
<path d="M510.9,601.5 L515.4,616.9"/>
<path d="M424.6,610.0 L414.6,620.5"/>
<path d="M426.8,610.9 L416.8,621.4"/>
<path d="M429.0,611.8 L419.0,622.3"/>
<path d="M431.2,612.7 L421.2,623.2"/>
<path d="M433.4,613.6 L423.4,624.1"/>
<path d="M435.6,614.5 L425.6,625.0"/>
<path d="M437.8,615.4 L427.8,625.9"/>
<path d="M440.0,616.3 L430.0,626.8"/>
<path d="M442.2,616.5 L432.2,627.0"/>
<path d="M444.4,615.9 L434.4,626.4"/>
<path d="M446.6,615.2 L436.6,625.8"/>
<path d="M416.0,615.0 L424.0,624.5" opacity="0.7"/>
<path d="M420.2,616.6 L428.2,625.1" opacity="0.7"/>
<path d="M424.4,618.2 L432.4,625.7" opacity="0.7"/>
<path d="M428.6,619.8 L436.6,626.3" opacity="0.7"/>
<path d="M432.8,621.4 L440.8,626.9" opacity="0.7"/>
<path d="M437.0,623.0 L445.0,627.5" opacity="0.7"/>
</g>
</g>
<g transform="translate(0 0)">
<path d="M523.5,550 C523,544 530,542 537.5,542 C545,542 551.5,544.5 552,550 L553,556 C556,552 560,551 564.5,551 C572,551 578.5,554 578.5,559.5 C578.5,585 577,606 574,614 C572,620.5 565,621 561.5,617 C547,602 527,575 523.5,550 Z" fill="#62728F"/>
<path d="M552,553 C552.5,575 556,600 564.5,618" fill="none" stroke="#E8ECF3" stroke-width="1.2"/>
<ellipse cx="537.7" cy="550" rx="11.5" ry="5.3" fill="#fff"/><ellipse cx="565" cy="559" rx="11" ry="5.2" fill="#fff"/>
</g>
<polygon points="657.4,541.1 672.1,541.7 673.8,546.9 670.9,551.0 677.9,550.5 679.7,557.5 686.1,559.2 687.3,566.9 685.6,580.9 679.1,585.6 679.1,589.7 694.3,592.6 697.3,598.5 694.3,606.7 689.7,612.5 687.3,617.2 680.3,620.7 673.3,624.3 663.9,624.3 659.2,619.6 653.3,618.4 648.7,613.7 640.5,613.7 638.1,607.9 632.3,604.3 632.8,598.5 638.1,596.1 634.0,593.8 638.1,580.9 635.2,573.9 641.0,571.5 639.3,564.5 644.0,559.8 651.0,549.3 653.9,549.3 655.1,556.3 658.0,551.6" fill="#62728F" stroke="#62728F" stroke-width="1.6" stroke-linejoin="round"/>
<g transform="translate(0 0)" fill="none" stroke-linecap="round">
<path d="M760.5,622 L772.5,593 L774.5,537" stroke="#62728F" stroke-width="4.4" stroke-linejoin="round"/>
<path d="M759.5,623.5 L762,617" stroke="#62728F" stroke-width="6"/>
<path d="M773,594 L783,592 L792,575" stroke="#62728F" stroke-width="2.8" stroke-linejoin="round"/>
<path d="M773,541 L776,537 L778,518 L775.5,530 Z" fill="#62728F" stroke="#62728F" stroke-width="2"/>
<path d="M773,527 L748,524 L742,534 L752,543 L772,541 Z" fill="#8392AD" opacity="0.28" stroke="none"/>
<g stroke="#6F7F9C" stroke-width="1.05">
<path d="M774,528 C762,525 748,524 734,525.5"/><path d="M773,531 C760,529 748,531 737,533.5"/><path d="M773,534 C760,535 745,540 728.5,542.5"/><path d="M773.5,526 C764,521 755,520.5 745,521.5"/>
<path d="M772,538 C764,540 758,541 754,543 C749,547 745,551 742,553 L740.5,560"/><path d="M772.5,536 C764,538 756,538 748,537"/>
<path d="M748,524 L742,522"/><path d="M752,531 L745,529"/><path d="M746,540 L741,545 L736,545"/><path d="M754,543 L748,549"/><path d="M758,521 L752,518"/>
<path d="M777,527 C785,520 794,516 803.5,512.5"/><path d="M777.5,529 C788,524 800,523 811.5,525.5"/><path d="M777,532 C790,531 803,532 816,536.5"/><path d="M777,535 C784,536.5 791,537 797.5,537.5"/><path d="M777.5,525 C783,519 789,516 796,515"/>
<path d="M794,516 L801,517"/><path d="M800,523.5 L806,520"/><path d="M803,532 L809,530"/><path d="M790,524 L797,527"/>
<path d="M792,575 L790.5,558"/><path d="M792,575 L797,566 L802,559"/><path d="M792,575 L806.5,566.5"/><path d="M792,575 L811.5,578"/><path d="M792,575 L805,584.5"/><path d="M792,575 L782.5,568"/><path d="M797,566 L795,560"/><path d="M800,573 L806,571"/>
<path d="M772,577 L764,576 L758,575.5"/><path d="M764,576 L762,570"/><path d="M766,577 L761,580"/>
</g></g>
<g>
<polygon points="894.8,538.0 896.6,542.2 902.8,543.3 905.4,547.0 905.5,553.0 904.3,556.0 906.6,559.0 906.8,566.0 905.3,570.5 901.8,575.0 900.0,580.0 898.0,586.0 897.2,590.0 898.2,595.0 900.0,600.0 900.4,604.0 900.2,606.8 889.4,606.8 889.2,604.0 889.6,600.0 891.4,595.0 892.4,590.0 891.6,586.0 889.6,580.0 887.8,575.0 884.3,570.5 882.8,566.0 883.0,559.0 885.3,556.0 884.1,553.0 884.2,547.0 886.8,543.3 893.0,542.2 894.8,538.0" fill="#62728F" stroke="#62728F" stroke-width="0.8" stroke-linejoin="round"/>
<g fill="none" stroke="#62728F" stroke-width="1.15" stroke-linecap="round" stroke-linejoin="round">
<path d="M887.8,571.0 C876.8,578.0 867.8,588.0 866.8,603.0 C866.3,614.0 869.8,623.0 875.8,624.0 C881.8,624.5 885.8,617.0 887.8,606.0"/>
<path d="M901.8,571.0 C912.8,578.0 921.8,588.0 922.8,603.0 C923.3,614.0 919.8,623.0 913.8,624.0 C907.8,624.5 903.8,617.0 901.8,606.0"/>
<path d="M885.8,575.0 C879.8,590.0 874.8,605.0 873.3,622.5"/>
<path d="M903.8,575.0 C909.8,590.0 914.8,605.0 916.3,622.5"/>
<path d="M886.8,580.0 C883.8,595.0 880.8,610.0 879.3,623.0"/>
<path d="M902.8,580.0 C905.8,595.0 908.8,610.0 910.3,623.0"/>
<path d="M870.8,590.0 C870.3,600.0 870.3,612.0 871.8,621.0"/>
<path d="M918.8,590.0 C919.3,600.0 919.3,612.0 917.8,621.0"/>
<path d="M887.3,588.0 C886.3,598.0 884.8,610.0 883.8,619.0"/>
<path d="M902.3,588.0 C903.3,598.0 904.8,610.0 905.8,619.0"/>
<path d="M876.8,592.0 L872.8,598.0"/>
<path d="M912.8,592.0 L916.8,598.0"/>
<path d="M884.3,556.0 L875.4,552.4 871.0,554.0 867.8,547.0 865.2,541.0"/>
<path d="M905.3,556.0 L914.2,552.4 918.6,554.0 921.8,547.0 924.4,541.0"/>
<path d="M883.0,563.7 L876.5,561.5 871.0,568.0 863.8,565.5 857.2,562.0"/>
<path d="M906.6,563.7 L913.1,561.5 918.6,568.0 925.8,565.5 932.4,562.0"/>
<path d="M883.3,570.0 C874.8,576.0 864.8,582.0 862.3,588.0 C860.8,595.0 861.8,600.0 856.0,606.6 L850.8,611.5"/>
<path d="M906.3,570.0 C914.8,576.0 924.8,582.0 927.3,588.0 C928.8,595.0 927.8,600.0 933.6,606.6 L938.8,611.5"/>
</g></g>
</g>
<g class="soft" id="panel-c-art">
<polygon points="1386,326 1368.5,351 1705,564 1731,543" fill="url(#gDiag)"/>
<rect x="1872.7" y="550.5" width="29.6" height="348" fill="url(#gYellow)"/>
<rect x="1905" y="537" width="30.8" height="404" fill="url(#gPink)"/>
<rect x="1937.3" y="336.8" width="30.7" height="390" fill="url(#gBlue)"/>
<rect x="1970.6" y="303" width="30" height="193" fill="url(#gLPurple)"/>
<rect x="1970.6" y="591" width="30" height="217" fill="url(#gDPurple)"/>
<path d="M1734.5,76 V1004" stroke="#97A5C1" stroke-width="4.6" fill="none"/>
<g fill="none" stroke="#7686A6" stroke-width="3">
<path d="M1241,230.5 L1734,541"/><path d="M1349.6,208 L1734,541"/><path d="M1565,99.7 L1734,205" stroke-width="2.8"/><path d="M1091,563 L1735,972" stroke-width="3"/>
</g>
<g fill="none" stroke="#6F7FA0" stroke-width="2.4" stroke-dasharray="7.3 8.2">
<path d="M1600,264.6 L1734,348.7"/><path d="M1553,563 L1733,676.5"/><path d="M1404.5,563 L1733,772"/><path d="M1492.4,690 L1733,842"/>
</g>
<g fill="none" stroke="#A9B4CC" stroke-width="0.9"><path d="M1241,230.5 L1734,541"/><path d="M1349.6,208 L1734,541"/><path d="M1565,99.7 L1734,205"/><path d="M1091,563 L1735,972"/></g>
<circle cx="1734.4" cy="540.8" r="11" fill="#CC4246"/><circle cx="1734.6" cy="972" r="11.4" fill="#CC4246"/>
</g>
<g class="soft" id="panel-c-organisms">
<g transform="translate(1048.4 544.7)">
<g transform="rotate(-74)">
<path d="M0,-5 L23,-6.2 L23,6.2 L0,5 Z" fill="#62728F"/>
<path d="M20,-6 L38,-9 L39.5,0 L38,9 L20,6 Z" fill="url(#gCollar)"/>
<path d="M24,-3 L38,-6 M24,0 L39,0 M24,3 L38,6" stroke="#62728F" stroke-width="0.9" opacity="0.45" fill="none"/>
<path d="M37,0 C40,-3 43,3 47,0 C50,-3 53,2 57,0" fill="none" stroke="#7F8EA9" stroke-width="1"/>
</g>
<g transform="rotate(-22)">
<path d="M0,-5 L23,-6.2 L23,6.2 L0,5 Z" fill="#62728F"/>
<path d="M20,-6 L38,-9 L39.5,0 L38,9 L20,6 Z" fill="url(#gCollar)"/>
<path d="M24,-3 L38,-6 M24,0 L39,0 M24,3 L38,6" stroke="#62728F" stroke-width="0.9" opacity="0.45" fill="none"/>
<path d="M37,0 C40,-3 43,3 47,0 C50,-3 53,2 57,0" fill="none" stroke="#7F8EA9" stroke-width="1"/>
</g>
<g transform="rotate(34)">
<path d="M0,-5 L23,-6.2 L23,6.2 L0,5 Z" fill="#62728F"/>
<path d="M20,-6 L38,-9 L39.5,0 L38,9 L20,6 Z" fill="url(#gCollar)"/>
<path d="M24,-3 L38,-6 M24,0 L39,0 M24,3 L38,6" stroke="#62728F" stroke-width="0.9" opacity="0.45" fill="none"/>
<path d="M37,0 C40,-3 43,3 47,0 C50,-3 53,2 57,0" fill="none" stroke="#7F8EA9" stroke-width="1"/>
</g>
<g transform="rotate(90)">
<path d="M0,-5 L23,-6.2 L23,6.2 L0,5 Z" fill="#62728F"/>
<path d="M20,-6 L38,-9 L39.5,0 L38,9 L20,6 Z" fill="url(#gCollar)"/>
<path d="M24,-3 L38,-6 M24,0 L39,0 M24,3 L38,6" stroke="#62728F" stroke-width="0.9" opacity="0.45" fill="none"/>
<path d="M37,0 C40,-3 43,3 47,0 C50,-3 53,2 57,0" fill="none" stroke="#7F8EA9" stroke-width="1"/>
</g>
<g transform="rotate(157)">
<path d="M0,-5 L23,-6.2 L23,6.2 L0,5 Z" fill="#62728F"/>
<path d="M20,-6 L38,-9 L39.5,0 L38,9 L20,6 Z" fill="url(#gCollar)"/>
<path d="M24,-3 L38,-6 M24,0 L39,0 M24,3 L38,6" stroke="#62728F" stroke-width="0.9" opacity="0.45" fill="none"/>
<path d="M37,0 C40,-3 43,3 47,0 C50,-3 53,2 57,0" fill="none" stroke="#7F8EA9" stroke-width="1"/>
</g>
<g transform="rotate(223)">
<path d="M0,-5 L23,-6.2 L23,6.2 L0,5 Z" fill="#62728F"/>
<path d="M20,-6 L38,-9 L39.5,0 L38,9 L20,6 Z" fill="url(#gCollar)"/>
<path d="M24,-3 L38,-6 M24,0 L39,0 M24,3 L38,6" stroke="#62728F" stroke-width="0.9" opacity="0.45" fill="none"/>
<path d="M37,0 C40,-3 43,3 47,0 C50,-3 53,2 57,0" fill="none" stroke="#7F8EA9" stroke-width="1"/>
</g>
<circle r="9.5" fill="#62728F"/><circle r="2.8" fill="#fff"/>
</g>
<g transform="translate(759.5 -332.3)">
<path d="M442.4,527.5 C443.7,527.5 447.5,527.2 450.0,527.6 C452.5,528.0 455.4,529.0 457.6,530.1 C459.8,531.2 461.5,532.8 463.0,534.5 C464.5,536.2 465.5,538.1 466.5,540.2 C467.5,542.3 468.5,544.7 469.0,547.0 C469.5,549.3 469.7,551.7 469.7,554.2 C469.7,556.7 469.5,559.5 469.0,562.0 C468.5,564.5 467.4,567.3 466.5,569.4 C465.6,571.5 464.6,573.0 463.5,574.5 C462.4,576.0 461.2,577.2 460.1,578.3 C459.0,579.3 458.1,580.2 457.0,580.8 C455.9,581.4 455.1,582.1 453.8,582.1 C452.5,582.1 450.5,581.6 449.0,581.0 C447.5,580.4 446.5,579.5 444.9,578.3 C443.3,577.0 441.2,575.2 439.5,573.5 C437.8,571.8 436.3,570.1 434.8,568.1 C433.3,566.1 431.7,563.6 430.5,561.5 C429.3,559.4 428.5,557.4 427.8,555.4 C427.1,553.4 426.5,551.4 426.3,549.5 C426.1,547.6 426.2,545.8 426.5,544.0 C426.8,542.2 427.2,540.2 428.0,538.5 C428.8,536.8 429.7,535.4 431.0,533.9 C432.3,532.4 434.1,530.6 436.0,529.5 C437.9,528.4 441.3,527.8 442.4,527.5 Z" fill="#62728F"/>
<g fill="none" stroke="#B6C0D3" stroke-width="1.25">
<path d="M434,532 C430,545 434,562 447,578"/><path d="M439,529 C436,545 441,565 452,580"/><path d="M445,528.5 C445,545 449,564 457,579"/><path d="M451,529 C454,544 458,560 461.5,575"/><path d="M457,531.5 C461,543 465,556 466,568"/><path d="M430.5,538 C427.5,548 430,559 439,571"/>
</g>
<g fill="none" stroke="#7887A3" stroke-width="1.15" stroke-linecap="round">
<path d="M448.7,582 C449.5,590 451,602 451.3,611 C451.5,616 449,618.5 444,619 C438,619 433,616.5 429.7,613.8 L424.6,610"/>
<path d="M466.5,572 C469,576 470.5,580 471,584 C471.5,590 472,594 473.5,597 C475.5,600.5 479,601.5 484,601.8 L512,600"/>
</g>
<g fill="none" stroke="#8E9BB4" stroke-width="0.95">
<path d="M479.0,601.5 L482.5,614.5"/>
<path d="M481.9,601.5 L486.4,615.7"/>
<path d="M484.8,601.5 L488.3,616.9"/>
<path d="M487.7,601.5 L492.2,614.5"/>
<path d="M490.6,601.5 L494.1,615.7"/>
<path d="M493.5,601.5 L498.0,616.9"/>
<path d="M496.4,601.5 L499.9,614.5"/>
<path d="M499.3,601.5 L503.8,615.7"/>
<path d="M502.2,601.5 L505.7,616.9"/>
<path d="M505.1,601.5 L509.6,614.5"/>
<path d="M508.0,601.5 L511.5,615.7"/>
<path d="M510.9,601.5 L515.4,616.9"/>
<path d="M424.6,610.0 L414.6,620.5"/>
<path d="M426.8,610.9 L416.8,621.4"/>
<path d="M429.0,611.8 L419.0,622.3"/>
<path d="M431.2,612.7 L421.2,623.2"/>
<path d="M433.4,613.6 L423.4,624.1"/>
<path d="M435.6,614.5 L425.6,625.0"/>
<path d="M437.8,615.4 L427.8,625.9"/>
<path d="M440.0,616.3 L430.0,626.8"/>
<path d="M442.2,616.5 L432.2,627.0"/>
<path d="M444.4,615.9 L434.4,626.4"/>
<path d="M446.6,615.2 L436.6,625.8"/>
<path d="M416.0,615.0 L424.0,624.5" opacity="0.7"/>
<path d="M420.2,616.6 L428.2,625.1" opacity="0.7"/>
<path d="M424.4,618.2 L432.4,625.7" opacity="0.7"/>
<path d="M428.6,619.8 L436.6,626.3" opacity="0.7"/>
<path d="M432.8,621.4 L440.8,626.9" opacity="0.7"/>
<path d="M437.0,623.0 L445.0,627.5" opacity="0.7"/>
</g>
</g>
<g transform="translate(782.5 -419.5)">
<path d="M523.5,550 C523,544 530,542 537.5,542 C545,542 551.5,544.5 552,550 L553,556 C556,552 560,551 564.5,551 C572,551 578.5,554 578.5,559.5 C578.5,585 577,606 574,614 C572,620.5 565,621 561.5,617 C547,602 527,575 523.5,550 Z" fill="#62728F"/>
<path d="M552,553 C552.5,575 556,600 564.5,618" fill="none" stroke="#E8ECF3" stroke-width="1.2"/>
<ellipse cx="537.7" cy="550" rx="11.5" ry="5.3" fill="#fff"/><ellipse cx="565" cy="559" rx="11" ry="5.2" fill="#fff"/>
</g>
<g transform="translate(755.5 -497.6)" fill="none" stroke-linecap="round">
<path d="M760.5,622 L772.5,593 L774.5,537" stroke="#62728F" stroke-width="4.4" stroke-linejoin="round"/>
<path d="M759.5,623.5 L762,617" stroke="#62728F" stroke-width="6"/>
<path d="M773,594 L783,592 L792,575" stroke="#62728F" stroke-width="2.8" stroke-linejoin="round"/>
<path d="M773,541 L776,537 L778,518 L775.5,530 Z" fill="#62728F" stroke="#62728F" stroke-width="2"/>
<path d="M773,527 L748,524 L742,534 L752,543 L772,541 Z" fill="#8392AD" opacity="0.28" stroke="none"/>
<g stroke="#6F7F9C" stroke-width="1.05">
<path d="M774,528 C762,525 748,524 734,525.5"/><path d="M773,531 C760,529 748,531 737,533.5"/><path d="M773,534 C760,535 745,540 728.5,542.5"/><path d="M773.5,526 C764,521 755,520.5 745,521.5"/>
<path d="M772,538 C764,540 758,541 754,543 C749,547 745,551 742,553 L740.5,560"/><path d="M772.5,536 C764,538 756,538 748,537"/>
<path d="M748,524 L742,522"/><path d="M752,531 L745,529"/><path d="M746,540 L741,545 L736,545"/><path d="M754,543 L748,549"/><path d="M758,521 L752,518"/>
<path d="M777,527 C785,520 794,516 803.5,512.5"/><path d="M777.5,529 C788,524 800,523 811.5,525.5"/><path d="M777,532 C790,531 803,532 816,536.5"/><path d="M777,535 C784,536.5 791,537 797.5,537.5"/><path d="M777.5,525 C783,519 789,516 796,515"/>
<path d="M794,516 L801,517"/><path d="M800,523.5 L806,520"/><path d="M803,532 L809,530"/><path d="M790,524 L797,527"/>
<path d="M792,575 L790.5,558"/><path d="M792,575 L797,566 L802,559"/><path d="M792,575 L806.5,566.5"/><path d="M792,575 L811.5,578"/><path d="M792,575 L805,584.5"/><path d="M792,575 L782.5,568"/><path d="M797,566 L795,560"/><path d="M800,573 L806,571"/>
<path d="M772,577 L764,576 L758,575.5"/><path d="M764,576 L762,570"/><path d="M766,577 L761,580"/>
</g></g>
<g transform="translate(1564 245) rotate(-5)">
<ellipse rx="48" ry="24" fill="#62728F"/>
<g stroke="#C9D0DE" stroke-width="1.0" fill="none">
<path d="M22.3,-2.7 L45.5,0.8"/>
<path d="M28.2,-1.0 L44.8,3.8"/>
<path d="M33.3,1.6 L43.3,6.8"/>
<path d="M20.5,0.8 L40.9,9.6"/>
<path d="M24.5,3.6 L37.7,12.3"/>
<path d="M27.1,7.0 L33.8,14.7"/>
<path d="M16.1,3.6 L29.2,16.9"/>
<path d="M17.5,7.0 L24.1,18.7"/>
<path d="M17.1,10.6 L18.5,20.1"/>
<path d="M9.8,5.3 L12.5,21.1"/>
<path d="M8.3,8.6 L6.3,21.8"/>
<path d="M5.0,11.9 L0.0,22.0"/>
<path d="M2.6,5.6 L-6.3,21.8"/>
<path d="M-1.5,8.3 L-12.5,21.1"/>
<path d="M-7.1,10.6 L-18.5,20.1"/>
<path d="M-4.2,4.3 L-24.1,18.7"/>
<path d="M-10.1,6.0 L-29.2,16.9"/>
<path d="M-17.1,7.0 L-33.8,14.7"/>
<path d="M-9.3,1.8 L-37.7,12.3"/>
<path d="M-16.1,2.2 L-40.9,9.6"/>
<path d="M-23.3,1.6 L-43.3,6.8"/>
<path d="M-12.0,-1.5 L-44.8,3.8"/>
<path d="M-18.5,-2.6 L-45.5,0.8"/>
<path d="M-24.6,-4.6 L-45.3,-2.3"/>
<path d="M-11.8,-5.1 L-44.1,-5.3"/>
<path d="M-16.8,-7.4 L-42.2,-8.2"/>
<path d="M-20.8,-10.4 L-39.4,-11.0"/>
<path d="M-8.6,-8.3 L-35.9,-13.5"/>
<path d="M-11.3,-11.5 L-31.6,-15.8"/>
<path d="M-12.5,-15.0 L-26.7,-17.8"/>
<path d="M-3.1,-10.6 L-21.4,-19.4"/>
<path d="M-3.0,-14.1 L-15.6,-20.7"/>
<path d="M-1.2,-17.6 L-9.5,-21.5"/>
<path d="M3.8,-11.6 L-3.2,-21.9"/>
<path d="M6.6,-14.7 L3.2,-21.9"/>
<path d="M11.2,-17.6 L9.5,-21.5"/>
<path d="M10.9,-11.1 L15.6,-20.7"/>
<path d="M16.0,-13.4 L21.4,-19.4"/>
<path d="M22.5,-15.0 L26.7,-17.8"/>
<path d="M17.0,-9.2 L31.6,-15.8"/>
<path d="M23.5,-10.2 L35.9,-13.5"/>
<path d="M30.8,-10.4 L39.4,-11.0"/>
<path d="M21.0,-6.2 L42.2,-8.2"/>
<path d="M27.8,-5.8 L44.1,-5.3"/>
<path d="M34.6,-4.6 L45.3,-2.3"/>
</g>
<path d="M-22,0 C-8,-6 8,-9 24,-15 M-4,-4 C6,1 16,3 28,3 M2,-5 L10,-15 M-2,-3 L-14,10 M4,-2 L12,12" stroke="#62728F" stroke-width="2.6" fill="none"/>
<ellipse cx="6" cy="-5" rx="11" ry="5" fill="#62728F"/>
</g>
<path d="M1759,268 C1764,261 1780,262 1793,272 C1808,284 1815,305 1812,322 C1810,336 1802,344 1795,342 C1787,339 1781,328 1776,315 C1770,300 1756,280 1759,268 Z" fill="#62728F"/>
<g stroke="#AEB8CD" stroke-width="0.9" fill="none">
<path d="M1786.0,274.0 C1793.0,273.0 1799.0,276.0 1803.0,280.0"/>
<path d="M1788.2,281.5 C1794.8,280.5 1800.3,283.5 1803.9,287.5"/>
<path d="M1790.4,289.0 C1796.6,288.0 1801.6,291.0 1804.8,295.0"/>
<path d="M1792.6,296.5 C1798.4,295.5 1802.9,298.5 1805.7,302.5"/>
<path d="M1794.8,304.0 C1800.2,303.0 1804.2,306.0 1806.6,310.0"/>
<path d="M1797.0,311.5 C1802.0,310.5 1805.5,313.5 1807.5,317.5"/>
<path d="M1799.2,319.0 C1803.8,318.0 1806.8,321.0 1808.4,325.0"/>
<path d="M1801.4,326.5 C1805.6,325.5 1808.1,328.5 1809.3,332.5"/>
<path d="M1803.6,334.0 C1807.4,333.0 1809.4,336.0 1810.2,340.0"/>
</g>
<polygon points="1395.1,553.2 1395.3,556.2 1393.3,557.1 1390.6,557.3 1389.9,558.5 1390.2,560.3 1388.6,560.9 1385.3,560.3 1383.0,560.3 1382.3,561.5 1380.8,562.2 1377.4,561.2 1373.9,560.1 1371.8,560.4 1369.8,561.0 1366.4,560.0 1362.3,558.2 1358.8,557.4 1355.6,557.3 1351.6,556.3 1346.9,554.0 1341.9,551.8 1334.3,549.6 1326.3,547.2 1321.5,544.9 1318.1,542.6 1314.0,541.0 1309.4,539.7 1306.2,537.9 1304.7,536.0 1302.6,534.3 1298.8,532.7 1295.7,530.9 1295.1,529.2 1294.8,527.5 1292.4,525.7 1289.5,523.7 1289.1,521.9 1290.3,520.4 1289.9,518.6 1287.7,516.2 1287.2,514.0 1289.4,512.5 1291.1,510.6 1290.9,506.8 1291.1,502.9 1293.3,501.4 1296.3,500.7 1297.2,499.1 1297.1,496.8 1298.8,495.9 1302.2,496.4 1304.5,496.2 1305.4,494.8 1306.9,493.9 1310.3,495.0 1313.7,496.2 1315.8,495.9 1317.8,495.4 1321.2,496.5 1325.1,498.7 1328.4,499.9 1331.5,500.2 1335.3,501.6 1339.8,504.5 1344.5,507.3 1351.7,510.4 1359.3,513.7 1363.8,516.6 1367.1,519.3 1370.9,521.4 1375.3,523.2 1378.4,525.2 1379.8,527.3 1381.9,529.2 1385.6,531.1 1388.5,533.0 1389.2,534.7 1389.5,536.2 1391.9,538.0 1394.9,540.0 1395.4,541.5 1394.3,542.6 1394.9,544.2 1397.2,546.3 1397.9,548.0 1396.0,549.0 1394.5,550.2" fill="#62728F" stroke="#62728F" stroke-width="1.5" stroke-linejoin="round"/>
<g transform="translate(1501.5 531) rotate(48)">
<path d="M-57,0 C-45,-20 -15,-21 10,-19 C35,-17 52,-10 57,0 C52,11 35,18 10,19 C-15,21 -45,20 -57,0 Z" fill="#62728F"/>
<g stroke="#C3CBDB" stroke-width="1.3" fill="none" stroke-linecap="round">
<path d="M-44.0,-3.1 l3,-3.2 M-41.0,1.6 l3,3.2"/>
<path d="M-44.0,-6.2 l3,-3.2 M-41.0,4.7 l3,3.2"/>
<path d="M-44.0,-9.2 l3,-3.2 M-41.0,7.7 l3,3.2"/>
<path d="M-35.5,-3.7 l3,-3.2 M-32.5,2.2 l3,3.2"/>
<path d="M-35.5,-7.5 l3,-3.2 M-32.5,6.0 l3,3.2"/>
<path d="M-35.5,-11.2 l3,-3.2 M-32.5,9.7 l3,3.2"/>
<path d="M-27.0,-4.2 l3,-3.2 M-24.0,2.7 l3,3.2"/>
<path d="M-27.0,-8.4 l3,-3.2 M-24.0,6.9 l3,3.2"/>
<path d="M-27.0,-12.5 l3,-3.2 M-24.0,11.0 l3,3.2"/>
<path d="M-18.5,-4.5 l3,-3.2 M-15.5,3.0 l3,3.2"/>
<path d="M-18.5,-9.0 l3,-3.2 M-15.5,7.5 l3,3.2"/>
<path d="M-18.5,-13.4 l3,-3.2 M-15.5,11.9 l3,3.2"/>
<path d="M-10.0,-4.7 l3,-3.2 M-7.0,3.2 l3,3.2"/>
<path d="M-10.0,-9.3 l3,-3.2 M-7.0,7.8 l3,3.2"/>
<path d="M-10.0,-14.0 l3,-3.2 M-7.0,12.5 l3,3.2"/>
<path d="M-1.5,-4.7 l3,-3.2 M1.5,3.2 l3,3.2"/>
<path d="M-1.5,-9.4 l3,-3.2 M1.5,7.9 l3,3.2"/>
<path d="M-1.5,-14.2 l3,-3.2 M1.5,12.7 l3,3.2"/>
<path d="M7.0,-4.7 l3,-3.2 M10.0,3.2 l3,3.2"/>
<path d="M7.0,-9.4 l3,-3.2 M10.0,7.9 l3,3.2"/>
<path d="M7.0,-14.1 l3,-3.2 M10.0,12.6 l3,3.2"/>
<path d="M15.5,-4.6 l3,-3.2 M18.5,3.1 l3,3.2"/>
<path d="M15.5,-9.1 l3,-3.2 M18.5,7.6 l3,3.2"/>
<path d="M15.5,-13.7 l3,-3.2 M18.5,12.2 l3,3.2"/>
<path d="M24.0,-4.3 l3,-3.2 M27.0,2.8 l3,3.2"/>
<path d="M24.0,-8.6 l3,-3.2 M27.0,7.1 l3,3.2"/>
<path d="M24.0,-12.9 l3,-3.2 M27.0,11.4 l3,3.2"/>
<path d="M32.5,-3.9 l3,-3.2 M35.5,2.4 l3,3.2"/>
<path d="M32.5,-7.8 l3,-3.2 M35.5,6.3 l3,3.2"/>
<path d="M32.5,-11.7 l3,-3.2 M35.5,10.2 l3,3.2"/>
<path d="M41.0,-3.3 l3,-3.2 M44.0,1.8 l3,3.2"/>
<path d="M41.0,-6.7 l3,-3.2 M44.0,5.2 l3,3.2"/>
<path d="M41.0,-10.0 l3,-3.2 M44.0,8.5 l3,3.2"/>
</g></g>
<path d="M1469,613 C1475,624 1488.5,641 1488.5,660 C1488.5,675 1481,686 1477.5,694 C1476,706 1474.5,718 1473.5,729 L1478.5,736.5 L1453.5,737 L1462,729 C1462,718 1461.5,706 1460,694 C1456,686 1453.5,675 1454,660 C1454.5,642 1463,628 1469,613 Z" fill="#62728F"/>
<path d="M1468.5,622 C1462,636 1457,648 1457,662 C1457,674 1460,683 1463.5,690 C1466,670 1467,645 1468.5,622 Z" fill="#fff" opacity="0.28"/>
<g stroke="#C9D0DE" stroke-width="1.0" fill="none">
<path d="M1467.5,635.0 L1460.0,630.0"/>
<path d="M1467.5,641.0 L1459.1,636.0"/>
<path d="M1467.5,647.0 L1458.2,642.0"/>
<path d="M1467.5,653.0 L1457.3,648.0"/>
<path d="M1467.5,659.0 L1456.4,654.0"/>
<path d="M1467.5,665.0 L1456.4,660.0"/>
<path d="M1467.5,671.0 L1456.4,666.0"/>
<path d="M1467.5,677.0 L1456.4,672.0"/>
<path d="M1467.5,683.0 L1456.4,678.0"/>
<path d="M1467.5,689.0 L1456.4,684.0"/>
<path d="M1467.5,695.0 L1456.4,690.0"/>
</g>
<g stroke="#D5DBE6" stroke-width="1.2" fill="none" stroke-dasharray="1.2 1.6">
<path d="M1474,634 C1481,646 1484,658 1482.5,670 C1481,680 1477,688 1474,694"/><path d="M1472,640 C1477,650 1479.5,660 1478.5,670 C1477.5,679 1474.5,686 1472,692"/>
</g>
<path d="M1753,630 C1752,622 1758,619 1765,620 C1773,621 1778,628 1778,637 C1778,646 1775,651 1771,651.5 C1763,652 1754,642 1753,630 Z" fill="#62728F"/>
<path d="M1779.5,625 C1779,615 1785,612.5 1793,612.5 C1801,612.5 1807,616 1806.5,626 C1806,638 1800,648 1793,648.5 C1786,648 1780,638 1779.5,625 Z" fill="#62728F"/>
<path d="M1770.5,650 C1774,662 1775.5,672 1776,685 M1792,648 L1791.5,687" stroke="#62728F" stroke-width="2.7" fill="none" stroke-linecap="round"/>
<path d="M1772.5,685.5 H1780 M1787,687.5 H1796" stroke="#62728F" stroke-width="2.6" fill="none" stroke-linecap="round"/>
<polygon points="1755.0,862.3 1761.6,859.8 1769.0,851.5 1776.5,852.4 1781.5,839.0 1787.3,843.2 1796.5,845.0 1804.0,848.2 1806.4,858.2 1807.3,869.0 1804.0,876.5 1798.0,884.0 1789.8,889.0 1773.2,893.0 1764.0,889.8 1762.4,881.4 1760.0,873.0 1760.0,866.5" fill="#62728F" stroke="#62728F" stroke-width="1.5" stroke-linejoin="round"/>
<g stroke="#6D7D99" stroke-width="1.5" fill="none" stroke-linecap="round" opacity="0.75">
<path d="M1780,841 L1779,823.5"/>
<path d="M1784,841 L1785.3,823.5"/>
<path d="M1770.5,851 L1769,836.6"/>
<path d="M1768,853 L1765,834"/>
<path d="M1763,858 L1759,844"/>
<path d="M1758,861 L1753.3,856.5"/>
<path d="M1796.5,845 L1797.3,831.6"/>
<path d="M1803,848 L1811.4,832.4"/>
<path d="M1805,852 L1813,842.4"/>
<path d="M1806,857 L1812.3,850.7"/>
<path d="M1806.5,862 L1812.3,857.4"/>
<path d="M1807,869 L1818,871.5"/>
<path d="M1806,872 L1820.6,880.6"/>
<path d="M1775,851 L1774,838"/>
<path d="M1800,846 L1805,836"/>
</g>
</g>
<g class="tx">
<text x="1494.7" y="297.0" font-size="24.5" fill="#303032" textLength="129.7" lengthAdjust="spacingAndGlyphs">Lobodiscus</text>
<text x="1377.5" y="480.0" font-size="24.5" fill="#303032" textLength="133.0" lengthAdjust="spacingAndGlyphs">Fractofusus</text>
<text x="1280.0" y="595.5" font-size="24.5" fill="#303032" textLength="145.0" lengthAdjust="spacingAndGlyphs">Windermeria</text>
<text x="1416.0" y="763.4" font-size="24.5" fill="#303032" textLength="158.5" lengthAdjust="spacingAndGlyphs">Stromatoveris</text>
<text x="1742.4" y="371.3" font-size="24.5" fill="#303032" textLength="159.0" lengthAdjust="spacingAndGlyphs">Parahoxozoan</text>
<text x="1742.4" y="400.0" font-size="24.5" fill="#303032" textLength="100.0" lengthAdjust="spacingAndGlyphs">ancestor</text>
<text x="1742.7" y="716.4" font-size="24.5" fill="#303032" textLength="102.5" lengthAdjust="spacingAndGlyphs">Complex</text>
<text x="1742.7" y="745.6" font-size="24.5" fill="#303032" textLength="56.0" lengthAdjust="spacingAndGlyphs">early</text>
<text x="1742.7" y="773.6" font-size="24.5" fill="#303032" textLength="76.0" lengthAdjust="spacingAndGlyphs">animal</text>
<text x="1742.7" y="917.0" font-size="24.5" fill="#303032" textLength="92.5" lengthAdjust="spacingAndGlyphs">Putative</text>
<text x="1742.7" y="945.5" font-size="24.5" fill="#303032" textLength="127.5" lengthAdjust="spacingAndGlyphs">first animal</text>
<text x="1752.4" y="552.7" font-size="23" fill="#1c1819" font-weight="bold" stroke="#1c1819" stroke-width="0.5" textLength="64.6" lengthAdjust="spacingAndGlyphs">LCAA</text>
<text x="1751.8" y="980.8" font-size="23" fill="#1c1819" font-weight="bold" stroke="#1c1819" stroke-width="0.5" textLength="92.0" lengthAdjust="spacingAndGlyphs">CA-LCA</text>
<text x="1028.7" y="862.7" font-size="23" fill="#1c1819" font-weight="bold" stroke="#1c1819" stroke-width="0.5" textLength="305.0" lengthAdjust="spacingAndGlyphs">Major evolutionary events</text>
<text x="1083.0" y="906.5" font-size="24.5" fill="#303032" textLength="182.0" lengthAdjust="spacingAndGlyphs">Nervous system</text>
<text x="1083.0" y="945.0" font-size="24.5" fill="#303032" textLength="285.0" lengthAdjust="spacingAndGlyphs">Animal–animal predation</text>
<text x="1083.0" y="981.7" font-size="24.5" fill="#303032" textLength="393.0" lengthAdjust="spacingAndGlyphs">Terminally differentiated cell types</text>
<text x="1083.0" y="1018.5" font-size="24.5" fill="#303032" textLength="584.0" lengthAdjust="spacingAndGlyphs">Obligate multicellularity (embryonic development)</text>
</g>
<g class="soft">
<rect x="1029.7" y="884.7" width="39.3" height="28" fill="#C9A0CB"/><polygon points="1029.7,884.7 1069,884.7 1029.7,912.7" fill="#9E509C"/>
<rect x="1029.7" y="921.5" width="39.3" height="28.5" fill="#8AC4E8"/>
<rect x="1029.7" y="959" width="39.3" height="28" fill="#EDA0A0"/>
<rect x="1029.7" y="996" width="39.3" height="28" fill="#F1D68A"/>
</g>
</svg>
</body>
</html>
